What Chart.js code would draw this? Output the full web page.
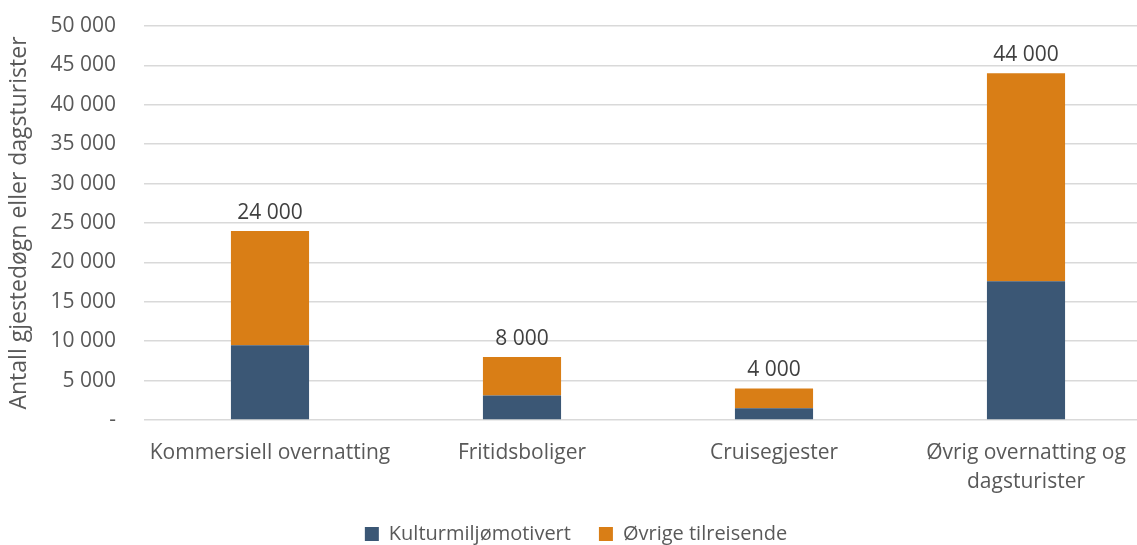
<!DOCTYPE html>
<html>
<head>
<meta charset="utf-8">
<script src="https://cdn.jsdelivr.net/npm/chart.js@4.4.1/dist/chart.umd.min.js"></script>
<style>
  html, body { margin: 0; padding: 0; background: #ffffff; overflow: hidden; }
  #wrap { width: 1152px; height: 545px; }
</style>
</head>
<body>
<div id="wrap"><canvas id="c" width="1152" height="545"></canvas></div>
<script>
const categories = [
  "Kommersiell overnatting",
  "Fritidsboliger",
  "Cruisegjester",
  ["Øvrig overnatting og", "dagsturister"]
];
const seriesNames = ["Kulturmiljømotivert", "Øvrige tilreisende"];
const kulturValues = [9500, 3100, 1500, 17600];
const ovrigeValues = [14500, 4900, 2500, 26400];
const totalLabels = ["24 000", "8 000", "4 000", "44 000"];
const yTickLabels = ["-", "5 000", "10 000", "15 000", "20 000", "25 000", "30 000", "35 000", "40 000", "45 000", "50 000"];
const yTitle = "Antall gjestedøgn eller dagsturister";

const FONT = "'Open Sans'";
const BLUE = "#3B5775";
const ORANGE = "#D97E16";

const totalsPlugin = {
  id: "totals",
  afterDatasetsDraw(chart) {
    const ctx = chart.ctx;
    const y = chart.scales.y;
    const x = chart.scales.x;
    ctx.save();
    ctx.font = "21px " + FONT;
    ctx.fillStyle = "#404040";
    ctx.textAlign = "center";
    ctx.textBaseline = "middle";
    categories.forEach((c, i) => {
      const total = kulturValues[i] + ovrigeValues[i];
      ctx.fillText(totalLabels[i], x.getPixelForValue(i), y.getPixelForValue(total) - 18);
    });
    ctx.restore();
  }
};

new Chart(document.getElementById("c"), {
  type: "bar",
  data: {
    labels: categories,
    datasets: [
      { label: seriesNames[0], data: kulturValues, backgroundColor: BLUE, categoryPercentage: 1, barPercentage: 0.31 },
      { label: seriesNames[1], data: ovrigeValues, backgroundColor: ORANGE, categoryPercentage: 1, barPercentage: 0.31 }
    ]
  },
  options: {
    responsive: false,
    animation: false,
    devicePixelRatio: 1,
    layout: { padding: { top: 26, left: 0, right: 0, bottom: -9 } },
    plugins: {
      legend: {
        position: "bottom",
        labels: {
          font: { family: FONT, size: 20 },
          color: "#595959",
          boxWidth: 14,
          boxHeight: 14,
          padding: 28
        }
      },
      tooltip: { enabled: false }
    },
    scales: {
      x: {
        stacked: true,
        grid: { display: false, drawTicks: false },
        border: { display: false },
        ticks: { font: { family: FONT, size: 21, lineHeight: 1.4 }, color: "#595959", padding: 18, maxRotation: 0, autoSkip: false },
        afterFit(scale) { scale.height = 76; scale.paddingLeft = 0; scale.paddingRight = 0; }
      },
      y: {
        stacked: true,
        min: 0, max: 50000,
        grid: { color: "#D9D9D9", lineWidth: 1.5, drawTicks: false },
        border: { display: false },
        ticks: {
          stepSize: 5000,
          padding: 28,
          font: { family: FONT, size: 21 },
          color: "#595959",
          callback: (v, i) => yTickLabels[i]
        },
        title: { display: true, text: yTitle, font: { family: FONT, size: 23 }, color: "#595959", padding: { top: 6, bottom: 4 } },
        afterFit(scale) { scale.width = 144; scale.paddingTop = 0; scale.paddingBottom = 0; }
      }
    }
  },
  plugins: [totalsPlugin]
});
</script>
</body>
</html>
